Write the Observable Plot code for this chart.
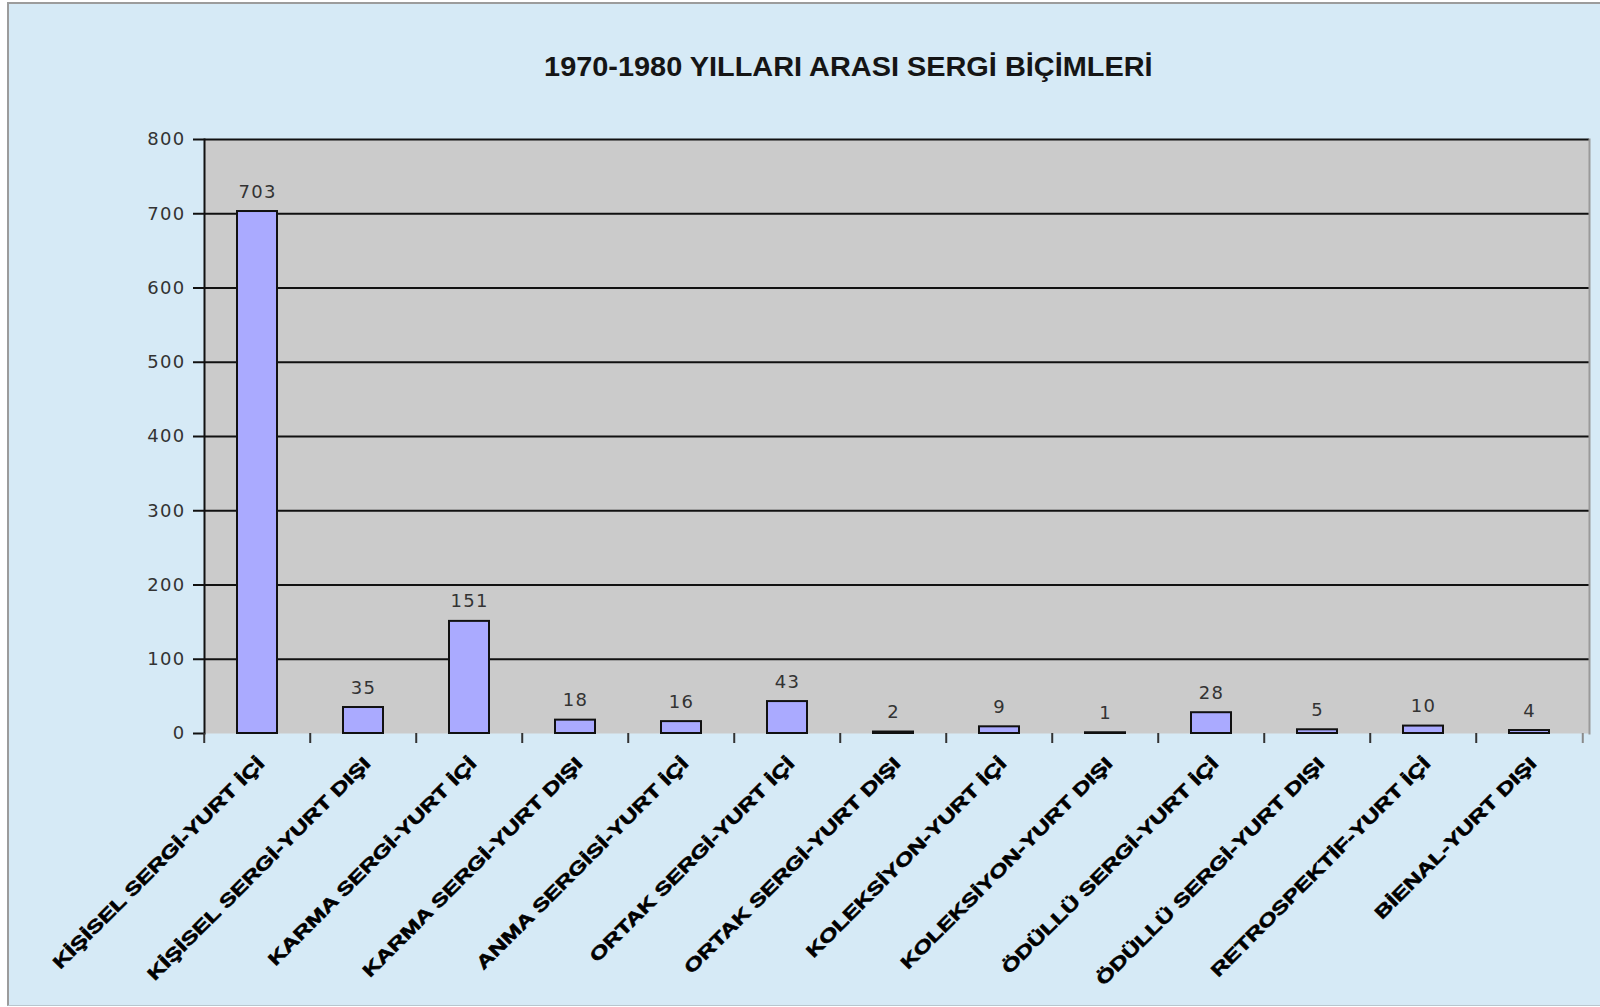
<!DOCTYPE html>
<html>
<head>
<meta charset="utf-8">
<script src="https://cdn.jsdelivr.net/npm/d3@7"></script>
<script src="https://cdn.jsdelivr.net/npm/@observablehq/plot@0.6"></script>
<style>
  html, body { margin: 0; padding: 0; background: #ffffff; }
  #wrap { position: relative; width: 1600px; height: 1007px; overflow: hidden; }
  #bg { position: absolute; left: 7px; top: 2px; right: 0; bottom: 1px; background: #d6eaf6;
        border-left: 2px solid #9c9c9c; border-top: 2px solid #9c9c9c; border-bottom: 1px solid #b9c6ce; }
  #title { position: absolute; left: 0; top: 52px; width: 1696px; text-align: center;
           font-family: "Liberation Sans", Arial, sans-serif; font-weight: bold; font-size: 27px;
           line-height: 30px; color: #151515; }
  #title span { display: inline-block; transform: scaleX(1.07); }
  #chart { position: absolute; left: 0; top: 0; }
  g[aria-label="y-axis tick label"] text, g[aria-label="text"] text { letter-spacing: 1.3px; }
  g[aria-label="x-axis tick label"] text { stroke: #000; stroke-width: 0.6px; }
</style>
</head>
<body>
<div id="wrap">
  <div id="bg"></div>
  <div id="chart"></div>
  <div id="title"><span>1970-1980 YILLARI ARASI SERGİ BİÇİMLERİ</span></div>
</div>
<script>
const categories = [
  "KİŞİSEL SERGİ-YURT İÇİ",
  "KİŞİSEL SERGİ-YURT DIŞI",
  "KARMA SERGİ-YURT İÇİ",
  "KARMA SERGİ-YURT DIŞI",
  "ANMA SERGİSİ-YURT İÇİ",
  "ORTAK SERGİ-YURT İÇİ",
  "ORTAK SERGİ-YURT DIŞI",
  "KOLEKSİYON-YURT İÇİ",
  "KOLEKSİYON-YURT DIŞI",
  "ÖDÜLLÜ SERGİ-YURT İÇİ",
  "ÖDÜLLÜ SERGİ-YURT DIŞI",
  "RETROSPEKTİF-YURT İÇİ",
  "BİENAL-YURT DIŞI"
];
const values = [703, 35, 151, 18, 16, 43, 2, 9, 1, 28, 5, 10, 4];
const yTicks = [0, 100, 200, 300, 400, 500, 600, 700, 800];

const data = categories.map((c, i) => ({category: c, value: values[i]}));

const W = 1600, H = 1007;
const mL = 204, mR = 11, mT = 139, mB = 274;
const step = (W - mL - mR) / categories.length;

const chart = Plot.plot({
  width: W,
  height: H,
  marginLeft: mL,
  marginRight: mR,
  marginTop: mT,
  marginBottom: mB,
  style: {background: "transparent", fontFamily: "'DejaVu Sans', Verdana, sans-serif", overflow: "visible"},
  x: {type: "band", domain: categories, paddingInner: 0.625, paddingOuter: 0.3125, align: 0.45, axis: null},
  y: {domain: [0, 800], axis: null},
  marks: [
    Plot.frame({fill: "#cbcbcb", stroke: null}),
    Plot.ruleY(yTicks.filter(v => v > 0), {stroke: "#111", strokeWidth: 2}),
    Plot.frame({anchor: "right", stroke: "#9a9a9a", strokeWidth: 2}),
    Plot.frame({anchor: "left", stroke: "#111", strokeWidth: 2}),
    Plot.barY(data, {x: "category", y: "value", fill: "#aaaaff", stroke: "#111", strokeWidth: 2}),
    Plot.text(data, {x: "category", y: "value", text: d => String(d.value), dy: -14, lineAnchor: "bottom",
                     fontSize: 18, fill: "#333"}),
    Plot.axisY({ticks: yTicks, tickSize: 11, tickPadding: 8, fontSize: 18, stroke: "#111", strokeWidth: 2,
                fill: "#333", label: null}),
    Plot.axisX({tickSize: 10, tickFormat: () => "", dx: -step / 2, stroke: "#333", strokeWidth: 2, label: null}),
    Plot.axisX({ticks: [categories[categories.length - 1]], tickSize: 10, tickFormat: () => "", dx: step / 2,
                stroke: "#8a8a8a", strokeWidth: 2, label: null}),
    Plot.axisX({tickSize: 0, tickPadding: 27, tickRotate: -45, dx: 4, fontSize: 18, fontWeight: "bold",
                fill: "#000", fontFamily: "'Liberation Sans', Arial, sans-serif", label: null})
  ]
});

document.getElementById("chart").appendChild(chart);

// stretch the rotated category labels along their direction, as in the original
d3.select(chart).selectAll('g[aria-label="x-axis tick label"] text').each(function() {
  const t = this.getAttribute("transform") || "";
  this.setAttribute("transform", t + " scale(1.36,1)");
});
</script>
</body>
</html>
